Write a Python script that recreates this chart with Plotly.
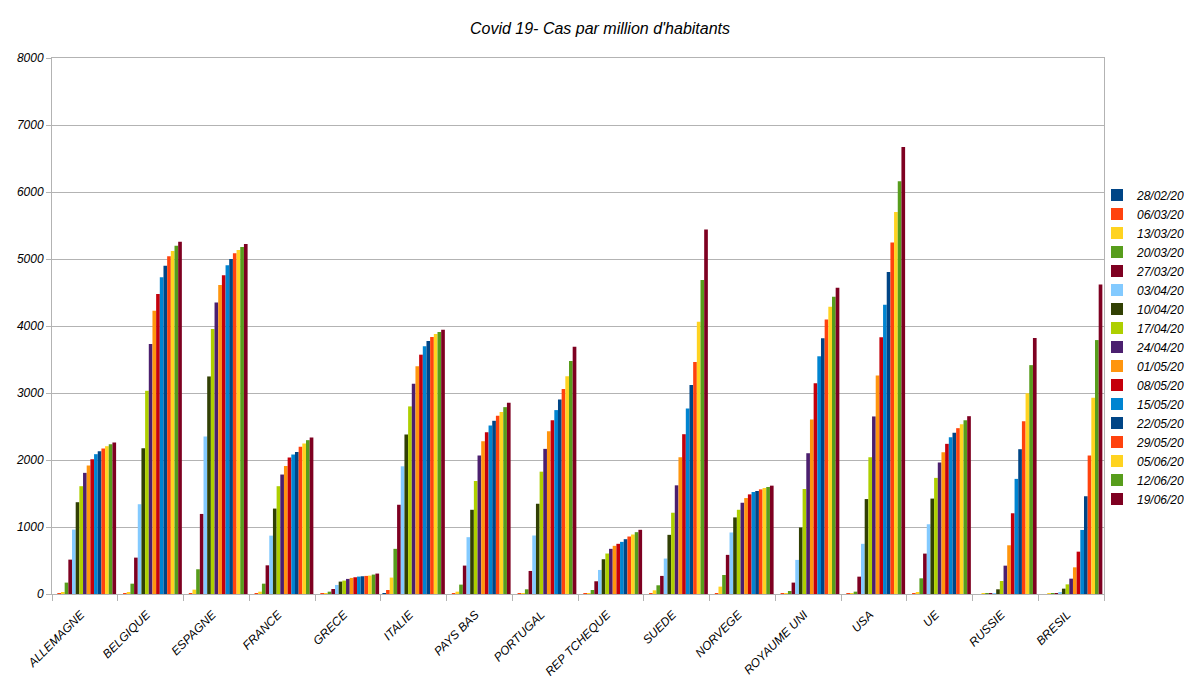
import plotly.graph_objects as go

countries = ["ALLEMAGNE", "BELGIQUE", "ESPAGNE", "FRANCE", "GRECE", "ITALIE", "PAYS BAS",
             "PORTUGAL", "REP TCHEQUE", "SUEDE", "NORVEGE", "ROYAUME UNI", "USA", "UE",
             "RUSSIE", "BRESIL"]

dates = ["28/02/20", "06/03/20", "13/03/20", "20/03/20", "27/03/20", "03/04/20", "10/04/20",
         "17/04/20", "24/04/20", "01/05/20", "08/05/20", "15/05/20", "22/05/20", "29/05/20",
         "05/06/20", "12/06/20", "19/06/20"]

# cases per million, one list per country (one value per date)
allemagne = [0, 2, 25, 170, 513, 961, 1370, 1609, 1808, 1917, 2012, 2087, 2131, 2171, 2206, 2236, 2261]
belgique = [0, 2, 30, 154, 543, 1340, 2176, 3033, 3730, 4228, 4477, 4726, 4900, 5040, 5119, 5199, 5259]
espagne = [0, 5, 65, 369, 1195, 2350, 3247, 3954, 4352, 4611, 4756, 4905, 5000, 5085, 5134, 5179, 5224]
france = [0, 5, 35, 154, 428, 871, 1275, 1609, 1783, 1912, 2037, 2082, 2121, 2196, 2246, 2296, 2336]
grece = [0, 1, 5, 35, 75, 135, 185, 200, 225, 240, 250, 260, 265, 270, 275, 290, 305]
italie = [10, 60, 245, 674, 1332, 1906, 2380, 2800, 3139, 3398, 3572, 3697, 3776, 3836, 3881, 3910, 3945]
pays_bas = [0, 5, 35, 140, 424, 848, 1257, 1687, 2066, 2280, 2415, 2515, 2585, 2660, 2715, 2789, 2854]
portugal = [0, 1, 5, 70, 344, 873, 1347, 1826, 2166, 2430, 2595, 2745, 2904, 3060, 3249, 3478, 3692]
rep_tcheque = [0, 1, 5, 60, 190, 359, 519, 604, 674, 719, 749, 778, 818, 858, 888, 923, 958]
suede = [0, 5, 55, 130, 270, 529, 883, 1213, 1622, 2041, 2385, 2769, 3119, 3463, 4062, 4686, 5439]
norvege = [0, 10, 110, 284, 584, 918, 1143, 1257, 1362, 1432, 1487, 1522, 1537, 1562, 1582, 1597, 1617]
royaume_uni = [0, 2, 5, 45, 170, 509, 993, 1567, 2101, 2605, 3144, 3548, 3817, 4097, 4286, 4436, 4571]
usa = [0, 1, 5, 35, 259, 749, 1417, 2041, 2650, 3263, 3832, 4316, 4805, 5245, 5702, 6160, 6673]
ue = [0, 2, 20, 234, 603, 1041, 1424, 1733, 1962, 2117, 2241, 2341, 2405, 2475, 2535, 2595, 2654]
russie = [0, 0, 1, 2, 5, 15, 70, 194, 423, 727, 1205, 1718, 2161, 2580, 2998, 3416, 3820]
bresil = [0, 0, 1, 2, 5, 25, 80, 144, 229, 398, 632, 956, 1459, 2067, 2928, 3790, 4621]

table = [allemagne, belgique, espagne, france, grece, italie, pays_bas, portugal, rep_tcheque,
         suede, norvege, royaume_uni, usa, ue, russie, bresil]

palette = ["#004586", "#ff420e", "#ffd320", "#579d1c", "#7e0021", "#83caff", "#314004",
           "#aecf00", "#4b1f6f", "#ff950e", "#c5000b", "#0084d1"]

FONT = "Liberation Sans, Arial, sans-serif"

# the page body adds an 8px offset; size the figure to fill the remaining window
W, H = 1184, 675

fig = go.Figure()
for i, d in enumerate(dates):
    fig.add_trace(go.Bar(
        name=d,
        x=countries,
        y=[row[i] for row in table],
        marker=dict(color=palette[i % len(palette)], line=dict(width=0)),
    ))

fig.update_layout(
    width=W, height=H,
    barmode="group", bargap=0.05, bargroupgap=0,
    plot_bgcolor="white", paper_bgcolor="white",
    margin=dict(l=44, r=88, t=50, b=89, autoexpand=False),
    font=dict(family=FONT, size=12, color="#000000"),
    title=dict(text="<i>Covid 19- Cas par million d'habitants</i>", x=0.5, xanchor="center",
               xref="container", yref="container",
               y=1 - 20 / H, yanchor="middle", font=dict(size=16, family=FONT)),
    legend=dict(xref="container", yref="container",
                x=1089 / W, xanchor="left", y=1 - 339 / H, yanchor="middle",
                font=dict(size=12, family=FONT, style="italic"),
                tracegroupgap=0, itemwidth=30, bgcolor="rgba(0,0,0,0)"),
    showlegend=True,
)
fig.update_xaxes(
    type="category", tickangle=-45, showgrid=False, automargin=False,
    ticks="outside", tickson="boundaries", ticklen=6, tickcolor="#b3b3b3",
    ticklabelstandoff=8, ticklabelshift=-4,
    showline=True, linecolor="#b3b3b3", linewidth=1, mirror=True,
    tickfont=dict(size=12, family=FONT, style="italic"),
)
fig.update_yaxes(
    range=[0, 8000], dtick=1000, showgrid=True, gridcolor="#b3b3b3", gridwidth=1,
    automargin=False,
    ticks="outside", ticklen=5, tickcolor="#b3b3b3",
    showline=True, linecolor="#b3b3b3", linewidth=1, mirror=True,
    zeroline=False,
    tickfont=dict(size=12, family=FONT, style="italic"),
)

fig.write_html("out.html")
